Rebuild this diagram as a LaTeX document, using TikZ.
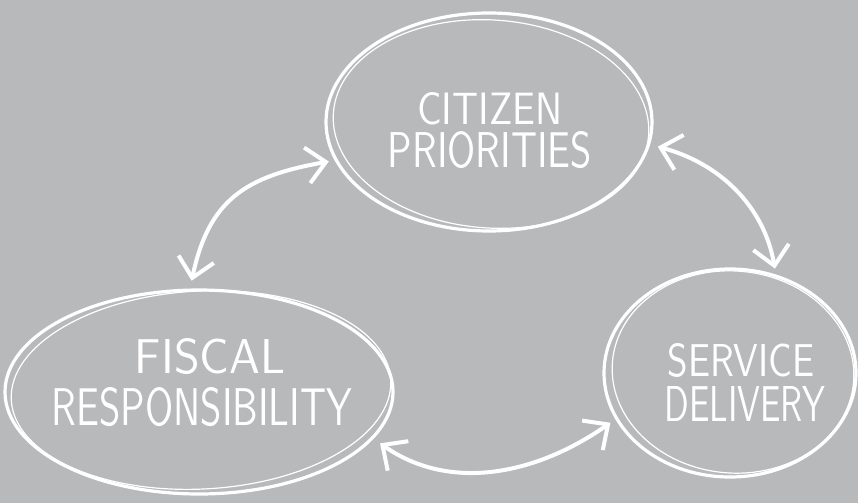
\documentclass[tikz,border=0pt]{standalone}
\usetikzlibrary{shapes.geometric,arrows.meta}
\definecolor{bg}{RGB}{184,185,187}
\begin{document}
\begin{tikzpicture}[x=1pt,y=-1pt,
  bubble/.style={ellipse,draw=white,line width=3.2pt,inner sep=0pt},
  sketch/.style={draw=white,line width=1.2pt},
  link/.style={white,line width=4pt,line cap=round,
    {Straight Barb[length=19pt,width=36pt,line width=4pt]}-{Straight Barb[length=19pt,width=36pt,line width=4pt]},
    shorten <=8pt,shorten >=6pt},
  lbl/.style={text=white,inner sep=0pt,font=\sffamily,align=center}]
\fill[bg] (0,0) rectangle (858,503);
\useasboundingbox (0,0) rectangle (858,503);
% bubbles
\node[bubble,minimum width=326pt,minimum height=218pt] (cp) at (489,122) {};
\node[bubble,minimum width=388pt,minimum height=204pt] (fr) at (199,392) {};
\node[bubble,minimum width=252pt,minimum height=208pt] (sd) at (730,373) {};
% second sketch strokes
\draw[sketch,rotate around={-4:(491,124)}] (491,124) ellipse [x radius=158pt,y radius=104pt];
\draw[sketch,rotate around={3:(201,390)}] (201,390) ellipse [x radius=190pt,y radius=99pt];
\draw[sketch,rotate around={-5:(733,372)}] (733,372) ellipse [x radius=121pt,y radius=101pt];
% labels
\node[lbl] (t1) at (490,130.5) {\resizebox{145pt}{32pt}{CITIZEN}\\[6pt]\resizebox{204pt}{36pt}{PRIORITIES}};
\node[lbl] (t2) at (202,383) {\hspace*{16pt}\resizebox{150pt}{35pt}{FISCAL}\\[12pt]\resizebox{300pt}{38pt}{RESPONSIBILITY}};
\node[lbl] (t3) at (745,382.5) {\resizebox{147pt}{33pt}{SERVICE}\hspace*{8pt}\\[7pt]\resizebox{161pt}{35pt}{DELIVERY}};
% connectors
\draw[link] (fr.95) to[out=78,in=190,looseness=1.2] (cp.194);
\draw[link] (cp.-8) to[out=-15,in=100] (sd.65);
\draw[link] (fr.-15) to[out=-35,in=215] (sd.202);
\end{tikzpicture}
\end{document}
